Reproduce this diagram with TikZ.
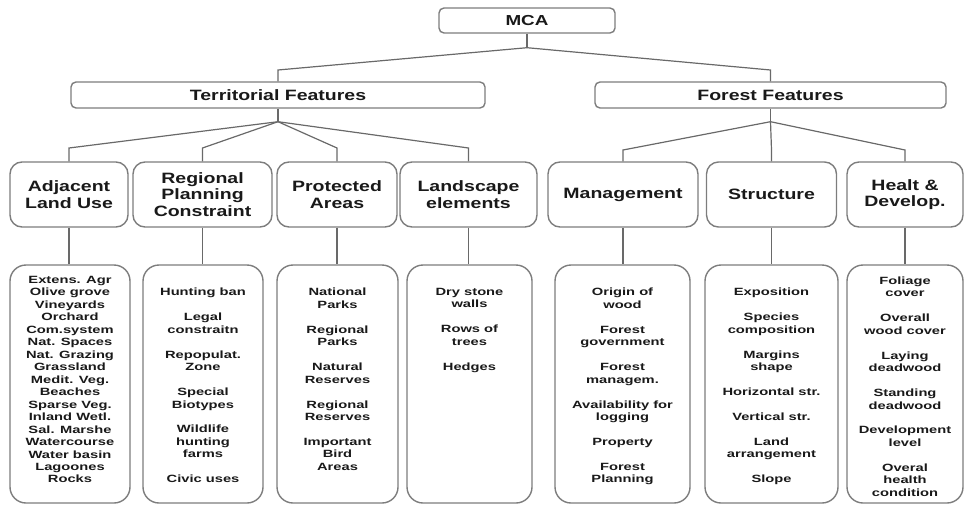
\documentclass[tikz,border=0pt]{standalone}
\usepackage{fontspec}
\setmainfont{Liberation Sans}[FakeStretch=1.3]
\newfontfamily\leaffont{Liberation Sans}[FakeStretch=1.4]
\usetikzlibrary{calc}
\definecolor{bordc}{RGB}{125,125,125}
\definecolor{linec}{RGB}{105,105,105}
\definecolor{txtc}{RGB}{25,25,25}
\begin{document}
\begin{tikzpicture}[x=1pt,y=-1pt,
  box/.style={draw=bordc, line width=1.4pt, text=txtc, inner sep=0pt, align=center},
  topbox/.style={box, rounded corners=5pt, minimum height=26pt, font=\bfseries\fontsize{15}{17}\selectfont},
  midbox/.style={box, rounded corners=12pt, minimum height=65pt, font=\bfseries\fontsize{15}{16.5}\selectfont},
  leafbox/.style={box, rounded corners=16pt, minimum height=238pt},
  leaftext/.style={anchor=north, inner sep=0pt, align=center, text=txtc, font=\leaffont\bfseries\fontsize{10.5}{12.47}\selectfont},
  conn/.style={draw=linec, line width=1.2pt}]
\useasboundingbox (0,0) rectangle (965,506);

% level 1 and 2
\node[topbox, minimum width=176pt, minimum height=25pt, font=\bfseries\fontsize{14.5}{17}\selectfont] (mca) at (527,20.5) {MCA};
\node[topbox, minimum width=414pt] (terr) at (278,95) {Territorial Features};
\node[topbox, minimum width=351pt] (forest) at (770.5,95) {Forest Features};

% level 3
\node[midbox, minimum width=118pt] (adj) at (69,194.5) {Adjacent\\Land Use};
\node[midbox, minimum width=139pt] (reg) at (202.5,194.5) {Regional\\Planning\\Constraint};
\node[midbox, minimum width=120pt] (prot) at (337,194.5) {Protected\\Areas};
\node[midbox, minimum width=137pt] (land) at (468.5,194.5) {Landscape\\elements};
\node[midbox, minimum width=150pt] (mgmt) at (623,194.5) {Management};
\node[midbox, minimum width=130pt] (struc) at (771.5,194.5) {Structure};
\node[midbox, minimum width=116pt] (healt) at (905,194.5) {Healt \&\\Develop.};

% level 4 boxes
\node[leafbox, minimum width=120pt] (la) at (70,384) {};
\node[leafbox, minimum width=120pt] (lb) at (203,384) {};
\node[leafbox, minimum width=121pt] (lc) at (337.5,384) {};
\node[leafbox, minimum width=125pt] (ld) at (469.5,384) {};
\node[leafbox, minimum width=135pt] (le) at (622.5,384) {};
\node[leafbox, minimum width=133pt] (lf) at (771.5,384) {};
\node[leafbox, minimum width=116pt] (lg) at (905,384) {};

% level 4 texts
\node[leaftext] (ta) at (70,276) {Extens. Agr\\Olive grove\\Vineyards\\Orchard\\Com.system\\Nat. Spaces\\Nat. Grazing\\Grassland\\Medit. Veg.\\Beaches\\Sparse Veg.\\Inland Wetl.\\Sal. Marshe\\Watercourse\\Water basin\\Lagoones\\Rocks};
\node[leaftext] (tb) at (203,288) {Hunting ban\\[12.47pt]Legal\\constraitn\\[12.47pt]Repopulat.\\Zone\\[12.47pt]Special\\Biotypes\\[12.47pt]Wildlife\\hunting\\farms\\[12.47pt]Civic uses};
\node[leaftext] (tc) at (337.5,288) {National\\Parks\\[12.47pt]Regional\\Parks\\[12.47pt]Natural\\Reserves\\[12.47pt]Regional\\Reserves\\[12.47pt]Important\\Bird\\Areas};
\node[leaftext] (td) at (469.5,288) {Dry stone\\walls\\[12.47pt]Rows of\\trees\\[12.47pt]Hedges};
\node[leaftext] (te) at (622.5,288) {Origin of\\wood\\[12.47pt]Forest\\government\\[12.47pt]Forest\\managem.\\[12.47pt]Availability for\\logging\\[12.47pt]Property\\[12.47pt]Forest\\Planning};
\node[leaftext] (tf) at (771.5,288) {Exposition\\[12.47pt]Species\\composition\\[12.47pt]Margins\\shape\\[12.47pt]Horizontal str.\\[12.47pt]Vertical str.\\[12.47pt]Land\\arrangement\\[12.47pt]Slope};
\node[leaftext] (tg) at (905,276.5) {Foliage\\cover\\[12.47pt]Overall\\wood cover\\[12.47pt]Laying\\deadwood\\[12.47pt]Standing\\deadwood\\[12.47pt]Development\\level\\[12.47pt]Overal\\health\\condition};

% connectors
\coordinate (y70) at (0,70);
\coordinate (y148) at (0,148);
\coordinate (y150) at (0,150);
\coordinate (j0) at ($(mca.south)+(0,14)$);
\coordinate (j1) at ($(terr.south)+(0,13)$);
\coordinate (j2) at ($(forest.south)+(0,13)$);

\draw[conn] (mca.south) -- (j0);
\draw[conn] (j0) -- (terr.north |- y70) -- (terr.north);
\draw[conn] (j0) -- (forest.north |- y70) -- (forest.north);

\draw[conn] (terr.south) -- (j1);
\foreach \c in {adj,reg,prot,land}
  \draw[conn] (j1) -- (\c.north |- y148) -- (\c.north);
\draw[conn] (forest.south) -- (j2);
\foreach \c in {mgmt,struc,healt}
  \draw[conn] (j2) -- (\c.north |- y150) -- (\c.north);

\foreach \a/\b in {adj/la,reg/lb,prot/lc,land/ld,mgmt/le,struc/lf,healt/lg}
  \draw[conn] (\a.south) -- (\a.south |- \b.north);
\end{tikzpicture}
\end{document}
